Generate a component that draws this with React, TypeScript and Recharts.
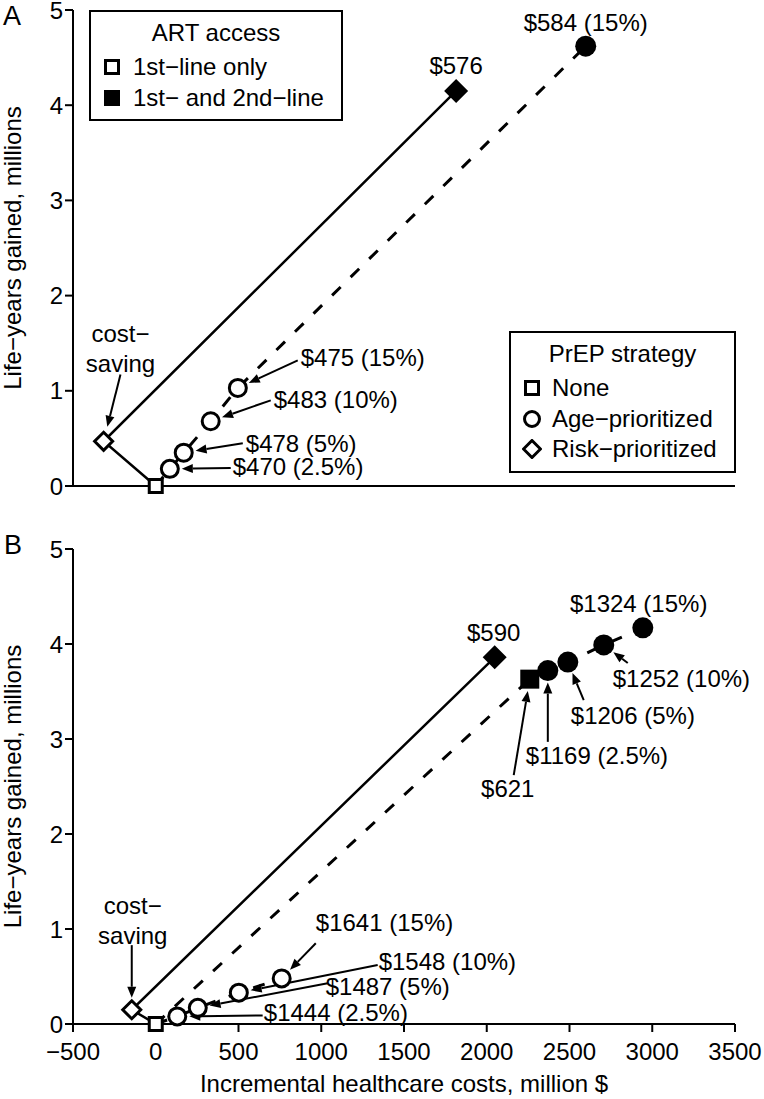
import React from "react";
import { ScatterChart, Scatter, XAxis, YAxis, ReferenceLine, ReferenceDot } from "recharts";

const FONT = '"Liberation Sans", Arial, Helvetica, sans-serif';
const INK = "#000";

const X_TICKS = [-500, 0, 500, 1000, 1500, 2000, 2500, 3000, 3500];
const Y_TICKS = [0, 1, 2, 3, 4, 5];

// Panel A — x: incremental cost (million $), y: life-years gained (millions)
const A_NONE_1ST = [{ x: 0, y: 0 }];
const A_RISK_1ST = [{ x: -315, y: 0.47 }];
const A_AGE_1ST = [
  { x: 85, y: 0.18 },
  { x: 169, y: 0.35 },
  { x: 332, y: 0.68 },
  { x: 496, y: 1.03 },
];
const A_RISK_BOTH = [{ x: 1815, y: 4.15 }];
const A_AGE_BOTH = [{ x: 2598, y: 4.62 }];

// Panel B
const B_NONE_1ST = [{ x: 0, y: 0 }];
const B_RISK_1ST = [{ x: -145, y: 0.15 }];
const B_AGE_1ST = [
  { x: 130, y: 0.08 },
  { x: 254, y: 0.17 },
  { x: 502, y: 0.33 },
  { x: 761, y: 0.48 },
];
const B_NONE_BOTH = [{ x: 2260, y: 3.63 }];
const B_RISK_BOTH = [{ x: 2048, y: 3.86 }];
const B_AGE_BOTH = [
  { x: 2369, y: 3.72 },
  { x: 2490, y: 3.81 },
  { x: 2707, y: 3.99 },
  { x: 2943, y: 4.17 },
];

type Pt = { x: number; y: number };
type Note = {
  lines: string[];
  at: Pt;
  anchor: "start" | "middle";
  from?: Pt;
  to?: Pt;
  gap?: number;
};

const A_NOTES: Note[] = [
  { lines: ["$584 (15%)"], at: { x: 2598, y: 4.87 }, anchor: "middle" },
  { lines: ["$576"], at: { x: 1815, y: 4.42 }, anchor: "middle" },
  { lines: ["cost−", "saving"], at: { x: -213, y: 1.6 }, anchor: "middle", from: { x: -213, y: 1.17 }, to: A_RISK_1ST[0], gap: 15 },
  { lines: ["$475 (15%)"], at: { x: 876, y: 1.35 }, anchor: "start", from: { x: 858, y: 1.32 }, to: A_AGE_1ST[3] },
  { lines: ["$483 (10%)"], at: { x: 713, y: 0.91 }, anchor: "start", from: { x: 695, y: 0.9 }, to: A_AGE_1ST[2] },
  { lines: ["$478 (5%)"], at: { x: 544, y: 0.45 }, anchor: "start", from: { x: 526, y: 0.45 }, to: A_AGE_1ST[1] },
  { lines: ["$470 (2.5%)"], at: { x: 465, y: 0.2 }, anchor: "start", from: { x: 453, y: 0.19 }, to: A_AGE_1ST[0] },
];

const B_NOTES: Note[] = [
  { lines: ["$1324 (15%)"], at: { x: 2918, y: 4.43 }, anchor: "middle" },
  { lines: ["$590"], at: { x: 2042, y: 4.12 }, anchor: "middle" },
  { lines: ["$1252 (10%)"], at: { x: 2761, y: 3.64 }, anchor: "start", from: { x: 2852, y: 3.8 }, to: B_AGE_BOTH[2] },
  { lines: ["$1206 (5%)"], at: { x: 2508, y: 3.25 }, anchor: "start", from: { x: 2586, y: 3.41 }, to: B_AGE_BOTH[1] },
  { lines: ["$1169 (2.5%)"], at: { x: 2236, y: 2.83 }, anchor: "start", from: { x: 2369, y: 2.97 }, to: B_AGE_BOTH[0] },
  { lines: ["$621"], at: { x: 2127, y: 2.48 }, anchor: "middle", from: { x: 2163, y: 2.62 }, to: B_NONE_BOTH[0] },
  { lines: ["cost−", "saving"], at: { x: -139, y: 1.25 }, anchor: "middle", from: { x: -145, y: 0.83 }, to: B_RISK_1ST[0] },
  { lines: ["$1641 (15%)"], at: { x: 967, y: 1.07 }, anchor: "start", from: { x: 967, y: 0.85 }, to: B_AGE_1ST[3] },
  { lines: ["$1548 (10%)"], at: { x: 1347, y: 0.66 }, anchor: "start", from: { x: 1341, y: 0.62 }, to: B_AGE_1ST[2] },
  { lines: ["$1487 (5%)"], at: { x: 1027, y: 0.39 }, anchor: "start", from: { x: 1039, y: 0.43 }, to: B_AGE_1ST[1] },
  { lines: ["$1444 (2.5%)"], at: { x: 653, y: 0.12 }, anchor: "start", from: { x: 646, y: 0.09 }, to: B_AGE_1ST[0] },
];

// marker shapes
const openSquare = (p: any) => (
  <rect x={p.cx - 6.5} y={p.cy - 6.5} width={13} height={13} fill="#fff" stroke={INK} strokeWidth={3} />
);
const filledSquare = (p: any) => (
  <rect x={p.cx - 9.5} y={p.cy - 9.5} width={19} height={19} fill={INK} />
);
const openCircle = (p: any) => (
  <circle cx={p.cx} cy={p.cy} r={8.5} fill="#fff" stroke={INK} strokeWidth={3} />
);
const filledCircle = (p: any) => <circle cx={p.cx} cy={p.cy} r={10.5} fill={INK} />;
const openDiamond = (p: any) => (
  <polygon
    points={`${p.cx},${p.cy - 9} ${p.cx + 9},${p.cy} ${p.cx},${p.cy + 9} ${p.cx - 9},${p.cy}`}
    fill="#fff"
    stroke={INK}
    strokeWidth={3}
  />
);
const filledDiamond = (p: any) => (
  <polygon
    points={`${p.cx},${p.cy - 12} ${p.cx + 12},${p.cy} ${p.cx},${p.cy + 12} ${p.cx - 12},${p.cy}`}
    fill={INK}
  />
);
const noMarker = () => <g />;

const arrowShape = (gap: number) => (p: any) => {
  const { x1, y1, x2, y2 } = p;
  const dx = x2 - x1;
  const dy = y2 - y1;
  const len = Math.hypot(dx, dy) || 1;
  const ux = dx / len;
  const uy = dy / len;
  const ex = x2 - ux * gap;
  const ey = y2 - uy * gap;
  const head = 11;
  const half = 4.5;
  const bx = ex - ux * head;
  const by = ey - uy * head;
  return (
    <g>
      <line x1={x1} y1={y1} x2={bx} y2={by} stroke={INK} strokeWidth={2} />
      <polygon
        points={`${ex},${ey} ${bx - uy * half},${by + ux * half} ${bx + uy * half},${by - ux * half}`}
        fill={INK}
      />
    </g>
  );
};

const noteText = (n: Note) => (p: any) => (
  <text x={p.cx} y={p.cy} textAnchor={n.anchor} fontSize={24} fontFamily={FONT} fill={INK}>
    {n.lines.map((l, i) => (
      <tspan key={i} x={p.cx} dy={i === 0 ? "0.35em" : 30}>
        {l}
      </tspan>
    ))}
  </text>
);

const fmtX = (v: number) => (v < 0 ? `−${Math.abs(v)}` : `${v}`);

const yTitle = (props: any) => {
  const vb = props.viewBox;
  const cy = vb.y + vb.height / 2;
  return (
    <text
      x={21}
      y={cy}
      transform={`rotate(-90, 21, ${cy})`}
      textAnchor="middle"
      fontSize={24}
      fontFamily={FONT}
      fill={INK}
    >
      Life−years gained, millions
    </text>
  );
};

const xTitle = (props: any) => {
  const vb = props.viewBox;
  return (
    <text x={vb.x + vb.width / 2} y={vb.y + 68} textAnchor="middle" fontSize={24} fontFamily={FONT} fill={INK}>
      Incremental healthcare costs, million $
    </text>
  );
};

const axisStroke = { stroke: INK, strokeWidth: 2 };
const tickFont = { fill: INK, fontSize: 24, fontFamily: FONT };

const dashed = { stroke: INK, strokeWidth: 3, strokeDasharray: "12 14", fill: "none" };
const solid = { stroke: INK, strokeWidth: 2.5, fill: "none" };

function Panel({
  top,
  height,
  marginTop,
  showX,
  solidPath,
  dashedPaths,
  series,
  notes,
}: {
  top: number;
  height: number;
  marginTop: number;
  showX: boolean;
  solidPath: Pt[];
  dashedPaths: Pt[][];
  series: { data: Pt[]; shape: (p: any) => React.ReactElement }[];
  notes: Note[];
}) {
  return (
    <div style={{ position: "absolute", left: 0, top }}>
      <ScatterChart width={764} height={height} margin={{ top: marginTop, right: 29, left: 0, bottom: 0 }}>
        <XAxis
          type="number"
          dataKey="x"
          domain={[-500, 3500]}
          ticks={X_TICKS}
          interval={0}
          tickFormatter={fmtX}
          tick={showX ? tickFont : false}
          tickSize={8}
          tickMargin={11}
          axisLine={axisStroke}
          tickLine={axisStroke}
          height={showX ? 75 : 14}
          label={showX ? { content: xTitle } : undefined}
        />
        <YAxis
          type="number"
          dataKey="y"
          domain={[0, 5]}
          ticks={Y_TICKS}
          interval={0}
          tick={tickFont}
          tickSize={8}
          tickMargin={2}
          axisLine={axisStroke}
          tickLine={axisStroke}
          width={73}
          label={{ content: yTitle }}
        />
        <Scatter data={solidPath} line={solid} shape={noMarker} isAnimationActive={false} />
        {dashedPaths.map((d, i) => (
          <Scatter key={`d${i}`} data={d} line={dashed} shape={noMarker} isAnimationActive={false} />
        ))}
        {series.map((s, i) => (
          <Scatter key={`s${i}`} data={s.data} shape={s.shape} isAnimationActive={false} />
        ))}
        {notes
          .filter((n) => n.from && n.to)
          .map((n, i) => (
            <ReferenceLine
              key={`a${i}`}
              segment={[n.from!, n.to!]}
              shape={arrowShape(n.gap ?? 12)}
              ifOverflow="visible"
            />
          ))}
        {notes.map((n, i) => (
          <ReferenceDot key={`t${i}`} x={n.at.x} y={n.at.y} r={0} shape={noteText(n)} ifOverflow="visible" />
        ))}
      </ScatterChart>
    </div>
  );
}

const sym = (kind: string) => {
  const c = 10;
  let el: React.ReactElement;
  if (kind === "openSquare") el = <rect x={3.5} y={3.5} width={13} height={13} fill="#fff" stroke={INK} strokeWidth={3} />;
  else if (kind === "filledSquare") el = <rect x={2} y={2} width={16} height={16} fill={INK} />;
  else if (kind === "openCircle") el = <circle cx={c} cy={c} r={7.5} fill="#fff" stroke={INK} strokeWidth={3} />;
  else el = <polygon points="10,1.5 18.5,10 10,18.5 1.5,10" fill="#fff" stroke={INK} strokeWidth={3} />;
  return (
    <svg width={20} height={20} style={{ display: "block" }}>
      {el}
    </svg>
  );
};

function LegendBox({
  left,
  top,
  width,
  height,
  title,
  items,
  symLeft,
  textLeft,
}: {
  left: number;
  top: number;
  width: number;
  height: number;
  title: string;
  items: { kind: string; label: string }[];
  symLeft: number;
  textLeft: number;
}) {
  return (
    <div
      style={{
        position: "absolute",
        left,
        top,
        width,
        height,
        boxSizing: "border-box",
        border: `2px solid ${INK}`,
        background: "#fff",
        fontFamily: FONT,
        fontSize: 24,
        color: INK,
      }}
    >
      <div style={{ position: "absolute", left: 0, right: 0, top: 6, height: 30, lineHeight: "30px", textAlign: "center" }}>
        {title}
      </div>
      {items.map((it, i) => (
        <div key={i} style={{ position: "absolute", left: 0, top: 40 + i * 30.5, height: 30, width: "100%" }}>
          <div style={{ position: "absolute", left: symLeft, top: 5 }}>{sym(it.kind)}</div>
          <div style={{ position: "absolute", left: textLeft, top: 0, lineHeight: "30px", whiteSpace: "nowrap" }}>
            {it.label}
          </div>
        </div>
      ))}
    </div>
  );
}

const ART_ITEMS = [
  { kind: "openSquare", label: "1st−line only" },
  { kind: "filledSquare", label: "1st− and 2nd−line" },
];
const PREP_ITEMS = [
  { kind: "openSquare", label: "None" },
  { kind: "openCircle", label: "Age−prioritized" },
  { kind: "openDiamond", label: "Risk−prioritized" },
];

export default function App() {
  return (
    <div style={{ position: "absolute", left: 0, top: 0, width: 764, height: 1099, background: "#fff", overflow: "hidden" }}>
      <Panel
        top={0}
        height={500}
        marginTop={10}
        showX={false}
        solidPath={[A_NONE_1ST[0], A_RISK_1ST[0], A_RISK_BOTH[0]]}
        dashedPaths={[[A_NONE_1ST[0], ...A_AGE_1ST, A_AGE_BOTH[0]]]}
        series={[
          { data: A_NONE_1ST, shape: openSquare },
          { data: A_RISK_1ST, shape: openDiamond },
          { data: A_AGE_1ST, shape: openCircle },
          { data: A_RISK_BOTH, shape: filledDiamond },
          { data: A_AGE_BOTH, shape: filledCircle },
        ]}
        notes={A_NOTES}
      />
      <Panel
        top={500}
        height={599}
        marginTop={49}
        showX
        solidPath={[B_NONE_1ST[0], B_RISK_1ST[0], B_RISK_BOTH[0]]}
        dashedPaths={[
          [B_NONE_1ST[0], B_NONE_BOTH[0], ...B_AGE_BOTH],
          [B_NONE_1ST[0], ...B_AGE_1ST],
        ]}
        series={[
          { data: B_NONE_1ST, shape: openSquare },
          { data: B_RISK_1ST, shape: openDiamond },
          { data: B_AGE_1ST, shape: openCircle },
          { data: B_NONE_BOTH, shape: filledSquare },
          { data: B_RISK_BOTH, shape: filledDiamond },
          { data: B_AGE_BOTH, shape: filledCircle },
        ]}
        notes={B_NOTES}
      />
      <LegendBox
        left={89}
        top={10}
        width={254}
        height={111}
        title="ART access"
        items={ART_ITEMS}
        symLeft={11}
        textLeft={42}
      />
      <LegendBox
        left={509}
        top={331}
        width={227}
        height={142}
        title="PrEP strategy"
        items={PREP_ITEMS}
        symLeft={11}
        textLeft={41}
      />
      <div style={{ position: "absolute", left: 3, top: 0, fontFamily: FONT, fontSize: 27, lineHeight: "33px", color: INK }}>A</div>
      <div style={{ position: "absolute", left: 4, top: 529, fontFamily: FONT, fontSize: 27, lineHeight: "33px", color: INK }}>B</div>
    </div>
  );
}
